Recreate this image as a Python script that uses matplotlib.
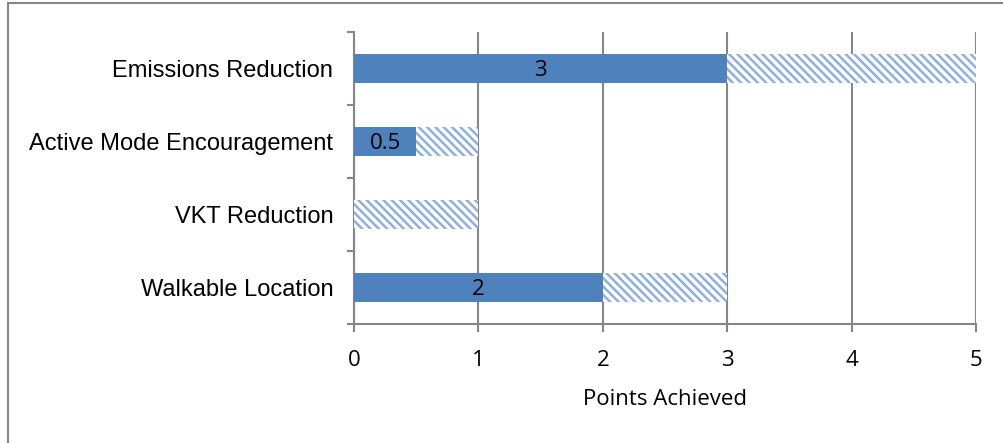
import matplotlib
matplotlib.use("Agg")
import matplotlib.pyplot as plt
from matplotlib.lines import Line2D
import numpy as np

categories = ["Walkable Location", "VKT Reduction", "Active Mode Encouragement", "Emissions Reduction"]
achieved = [2, 0, 0.5, 3]
available = [3, 1, 1, 5]
x_ticks = [0, 1, 2, 3, 4, 5]

W, H = 1004, 443
fig = plt.figure(figsize=(W / 100, H / 100), dpi=100)
plt.rcParams['hatch.linewidth'] = 1.8

ax = fig.add_axes([354 / W, 1 - 324 / H, (976 - 354) / W, (324 - 32) / H])

y = np.arange(len(categories))
remaining = [a - b for a, b in zip(available, achieved)]
solid = "#4F81BD"
ax.barh(y, achieved, height=0.41, color=solid, edgecolor="none", zorder=3)
ax.barh(y, remaining, left=achieved, height=0.41, facecolor="white",
        edgecolor="#8FB0DA", hatch="\\\\\\\\", linewidth=0, zorder=3)

for yi, v in zip(y, achieved):
    if v > 0:
        ax.text(v / 2, yi - 0.03, f"{v:g}", ha="center", va="center", fontsize=16,
                family="Open Sans", color="black", zorder=4)

ax.set_xlim(0, 5)
ax.set_ylim(-0.5, len(categories) - 0.5)
ax.set_xticks(x_ticks)
ax.set_xticklabels([str(t) for t in x_ticks], family="Open Sans", fontsize=16)
ax.tick_params(axis="x", length=6, width=1.5, color="#868686", pad=13)

ax.set_yticks(np.arange(-0.5, len(categories), 1.0))
ax.set_yticklabels([])
ax.tick_params(axis="y", which="major", length=5, width=1.5, color="#868686")
ax.set_yticks(y, minor=True)
ax.set_yticklabels(categories, minor=True, family="Liberation Sans", fontsize=17)
ax.tick_params(axis="y", which="minor", length=0, pad=15)

ax.grid(axis="x", color="#868686", linewidth=1.5, zorder=1)
ax.set_axisbelow(True)
for s in ["top", "right"]:
    ax.spines[s].set_visible(False)
for s in ["left", "bottom"]:
    ax.spines[s].set_color("#868686")
    ax.spines[s].set_linewidth(1.5)

ax.set_xlabel("Points Achieved", family="Open Sans", fontsize=16, labelpad=13)

# figure border (left and top edges)
fig.add_artist(Line2D([8.5 / W, 8.5 / W], [0, 1 - 2.5 / H], transform=fig.transFigure,
                      color="#868686", linewidth=1.5))
fig.add_artist(Line2D([8.5 / W, 1], [1 - 2.5 / H, 1 - 2.5 / H], transform=fig.transFigure,
                      color="#868686", linewidth=1.5))

fig.savefig("out.png", dpi=100)
